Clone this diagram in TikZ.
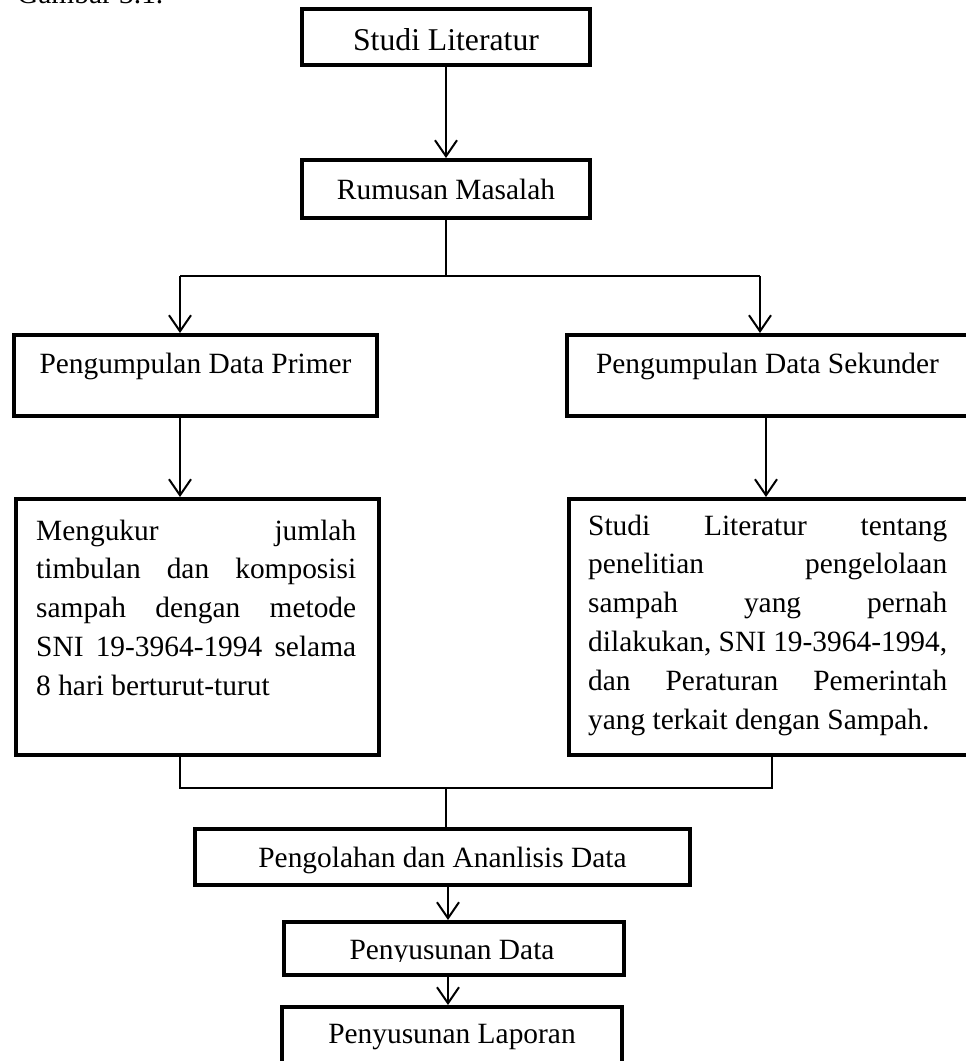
\documentclass[tikz,border=0pt]{standalone}
\usepackage{fontspec}
\setmainfont{Liberation Serif}
\usetikzlibrary{arrows.meta}
\newcommand{\bodyfont}{\fontsize{29.4pt}{38.8pt}\selectfont}
\newcommand{\bigbodyfont}{\fontsize{31.7pt}{38.8pt}\selectfont}
\begin{document}
\begin{tikzpicture}[x=1pt,y=-1pt,
  box/.style={draw, line width=4pt, inner sep=0pt, rectangle, font=\bodyfont, anchor=base},
  txt/.style={inner sep=0pt, font=\bodyfont},
  conn/.style={line width=2pt},
  arr/.style={conn, -{Straight Barb[length=16pt,width=22pt,line width=2pt]}}]
\clip (0,0) rectangle (966,1061);
\fill[white] (0,0) rectangle (966,1061);
% caption (cut off at top)
\node[txt, anchor=base west] (cap) at (17,3) {Gambar 3.1.};
% boxes
\node[box, font=\bigbodyfont, minimum width=288pt, text height=41pt, text depth=15pt] (b1) at (446,50) {Studi Literatur};
\node[box, minimum width=288pt, text height=39pt, text depth=19pt] (b2) at (446,199) {Rumusan Masalah};
\node[box, minimum width=363pt, text height=38pt, text depth=43pt] (b3) at (195.5,373) {Pengumpulan Data Primer};
\node[box, minimum width=401pt, text height=38pt, text depth=43pt] (b4) at (767.5,373) {Pengumpulan Data Sekunder};
\node[box, anchor=north west, minimum width=363pt, minimum height=256pt] (b5) at (14,497) {};
\node[box, anchor=north west, minimum width=401pt, minimum height=256pt] (b6) at (567,497) {};
\node[box, minimum width=495pt, text height=38pt, text depth=18pt] (b7) at (442.5,867) {Pengolahan dan Ananlisis Data};
\node[box, anchor=north west, minimum width=340pt, minimum height=53pt] (b8) at (282,920) {};
\node[box, minimum width=340pt, text height=36pt, text depth=30pt] (b9) at (452,1043) {Penyusunan Laporan};
% paragraph texts
\node[txt, anchor=base west] (b5t) at (36,540) {\parbox[t]{320pt}{\bodyfont
\makebox[320pt][s]{Mengukur jumlah}\\
\makebox[320pt][s]{timbulan dan komposisi}\\
\makebox[320pt][s]{sampah dengan metode}\\
\makebox[320pt][s]{SNI 19-3964-1994 selama}\\
8 hari berturut-turut}};
\node[txt, anchor=base west] (b6t) at (588,535) {\parbox[t]{359pt}{\bodyfont
\makebox[359pt][s]{Studi Literatur tentang}\\
\makebox[359pt][s]{penelitian pengelolaan}\\
\makebox[359pt][s]{sampah yang pernah}\\
\makebox[359pt][s]{dilakukan, SNI 19-3964-1994,}\\
\makebox[359pt][s]{dan Peraturan Pemerintah}\\
yang terkait dengan Sampah.}};
\begin{scope}
\clip (282,920) rectangle (622,961);
\node[txt, anchor=base] (b8t) at (452,959) {Penyusunan Data};
\end{scope}
% junction coordinates
\coordinate (jl) at (180,276);
\coordinate (jm) at (446,276);
\coordinate (jr) at (760,276);
\coordinate (cl) at (180,788);
\coordinate (cm) at (446,788);
\coordinate (cr) at (772,788);
\coordinate (a5) at (180,0);
\coordinate (a6) at (766,0);
\coordinate (a8) at (448,0);
% connectors
\draw[arr] (b1.south) -- (b2.north);
\draw[conn] (b2.south) -- (jm);
\draw[conn] (jl) -- (jr);
\draw[arr] (jl) -- (jl |- b3.north);
\draw[arr] (jr) -- (jr |- b4.north);
\draw[arr] (a5 |- b3.south) -- (a5 |- b5.north);
\draw[arr] (a6 |- b4.south) -- (a6 |- b6.north);
\draw[conn] (cl |- b5.south) -- (cl) -- (cr) -- (cr |- b6.south);
\draw[conn] (cm) -- (cm |- b7.north);
\draw[arr] (a8 |- b7.south) -- (a8 |- b8.north);
\draw[arr] (b8.south -| a8) -- (b9.north -| a8);
\end{tikzpicture}
\end{document}
